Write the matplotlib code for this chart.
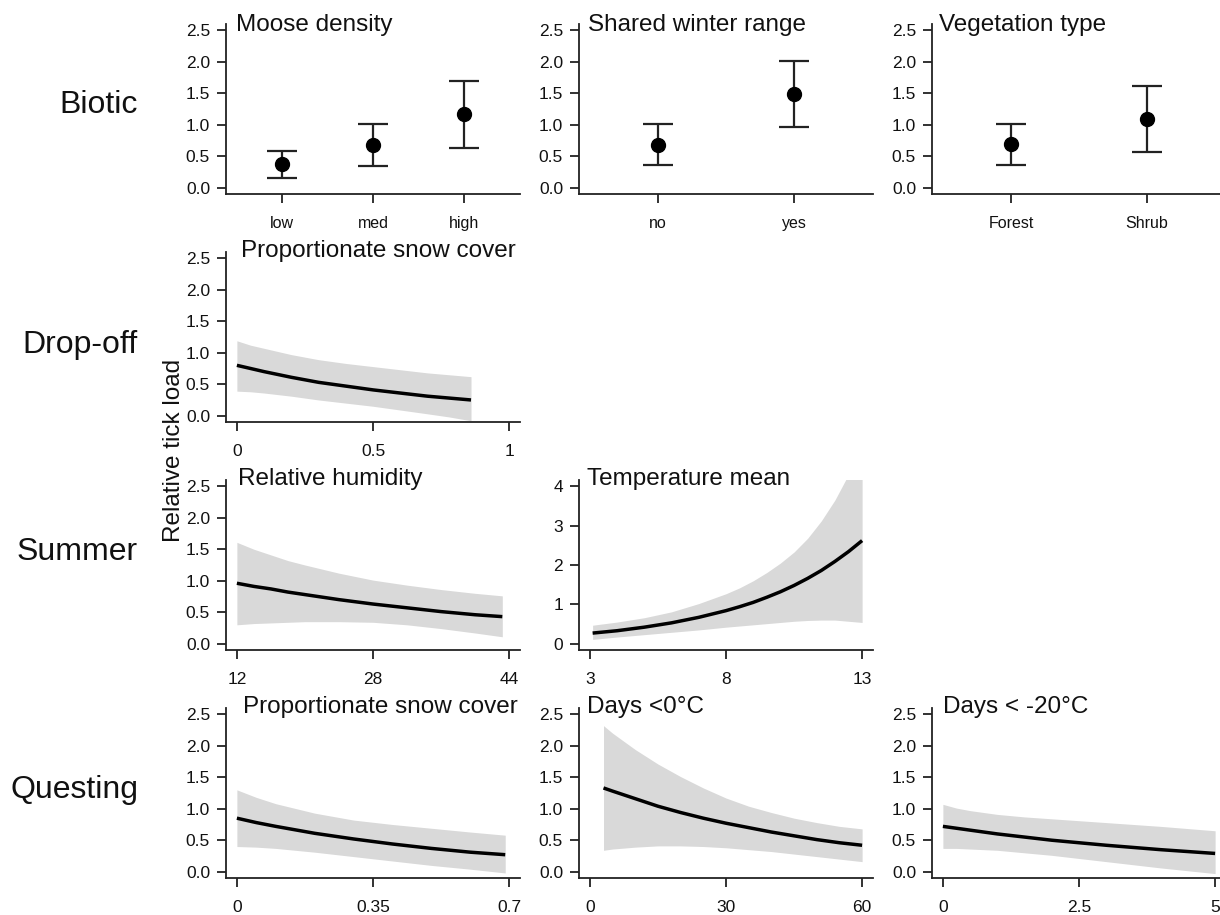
import matplotlib
matplotlib.use("Agg")
import matplotlib.pyplot as plt

plt.rcParams['font.family'] = ['Liberation Sans', 'DejaVu Sans']

# ---- data ----
# Biotic (categorical effects)
moose_levels = ["low", "med", "high"]
moose_est = [0.37, 0.68, 1.17]
moose_lo = [0.15, 0.35, 0.63]
moose_hi = [0.59, 1.01, 1.70]

winter_levels = ["no", "yes"]
winter_est = [0.68, 1.49]
winter_lo = [0.36, 0.97]
winter_hi = [1.01, 2.02]

veg_levels = ["Forest", "Shrub"]
veg_est = [0.69, 1.09]
veg_lo = [0.36, 0.56]
veg_hi = [1.01, 1.62]

# Drop-off: proportionate snow cover
drop_x = [0, 0.05, 0.1, 0.2, 0.3, 0.4, 0.5, 0.6, 0.7, 0.78, 0.86]
drop_fit = [0.80, 0.75, 0.70, 0.61, 0.53, 0.47, 0.41, 0.36, 0.31, 0.28, 0.25]
drop_hi = [1.19, 1.12, 1.07, 0.97, 0.89, 0.83, 0.78, 0.73, 0.68, 0.65, 0.62]
drop_lo = [0.39, 0.38, 0.36, 0.31, 0.25, 0.20, 0.15, 0.09, 0.03, -0.02, -0.08]

# Summer: relative humidity
humid_x = [12, 14, 16, 18, 20, 24, 28, 32, 36, 40, 43.2]
humid_fit = [0.96, 0.91, 0.87, 0.82, 0.78, 0.70, 0.63, 0.57, 0.51, 0.46, 0.43]
humid_hi = [1.61, 1.50, 1.41, 1.32, 1.25, 1.12, 1.01, 0.93, 0.86, 0.80, 0.76]
humid_lo = [0.30, 0.32, 0.33, 0.34, 0.35, 0.35, 0.34, 0.30, 0.24, 0.17, 0.11]

# Summer: temperature mean
temp_x = [3.1, 4, 5, 6, 7, 8, 8.5, 9, 9.5, 10, 10.5, 11, 11.5, 12, 12.5, 13]
temp_fit = [0.27, 0.33, 0.42, 0.53, 0.67, 0.84, 0.94, 1.05, 1.18, 1.32, 1.48,
            1.66, 1.86, 2.09, 2.34, 2.62]
temp_hi = [0.47, 0.55, 0.66, 0.81, 1.02, 1.27, 1.42, 1.60, 1.81, 2.05, 2.33,
           2.68, 3.12, 3.65, 4.30, 5.00]
temp_lo = [0.11, 0.17, 0.23, 0.29, 0.35, 0.42, 0.45, 0.48, 0.51, 0.54, 0.57,
           0.59, 0.60, 0.60, 0.57, 0.54]

# Questing: proportionate snow cover
qsnow_x = [0, 0.05, 0.1, 0.2, 0.3, 0.4, 0.5, 0.6, 0.69]
qsnow_fit = [0.85, 0.78, 0.72, 0.61, 0.52, 0.44, 0.37, 0.31, 0.27]
qsnow_hi = [1.30, 1.18, 1.08, 0.93, 0.82, 0.75, 0.69, 0.63, 0.58]
qsnow_lo = [0.40, 0.39, 0.37, 0.31, 0.24, 0.17, 0.10, 0.04, -0.02]

# Questing: days < 0 C
d0_x = [3, 5, 10, 15, 20, 25, 30, 35, 40, 45, 50, 55, 60]
d0_fit = [1.33, 1.28, 1.16, 1.04, 0.94, 0.85, 0.77, 0.70, 0.63, 0.57, 0.51,
          0.46, 0.42]
d0_hi = [2.32, 2.20, 1.94, 1.71, 1.51, 1.33, 1.17, 1.04, 0.94, 0.85, 0.78,
         0.72, 0.68]
d0_lo = [0.34, 0.36, 0.39, 0.41, 0.41, 0.40, 0.38, 0.35, 0.32, 0.28, 0.24,
         0.20, 0.16]

# Questing: days < -20 C
d20_x = [0, 0.25, 0.5, 1, 1.5, 2, 3, 4, 5]
d20_fit = [0.72, 0.69, 0.66, 0.60, 0.55, 0.50, 0.42, 0.35, 0.29]
d20_hi = [1.07, 1.01, 0.97, 0.91, 0.87, 0.84, 0.78, 0.72, 0.65]
d20_lo = [0.37, 0.37, 0.36, 0.34, 0.30, 0.26, 0.16, 0.06, -0.03]

row_labels = ["Biotic", "Drop-off", "Summer", "Questing"]

# ---- layout (pixel based, 1220 x 915) ----
W, H = 1220, 915
fig = plt.figure(figsize=(W / 100, H / 100), dpi=100)

col_left = [226, 579, 932]
row_top = [24, 252, 480, 708]
AW, AH = 294, 170
TXT = '#111111'
BAND = '#d9d9d9'


def make_ax(row, col):
    l = col_left[col]
    t = row_top[row]
    return fig.add_axes([l / W, 1 - (t + AH) / H, AW / W, AH / H])


def style(ax, xlim, xticks, xlabels, ylim=(-0.1, 2.6),
          yticks=(0, 0.5, 1, 1.5, 2, 2.5),
          ylabels=("0.0", "0.5", "1.0", "1.5", "2.0", "2.5"), xsize=12.5):
    for s in ['top', 'right']:
        ax.spines[s].set_visible(False)
    for s in ['left', 'bottom']:
        ax.spines[s].set_linewidth(1.3)
        ax.spines[s].set_color('#222222')
    ax.set_xlim(*xlim)
    ax.set_ylim(*ylim)
    ax.set_xticks(xticks)
    ax.set_xticklabels(xlabels)
    ax.set_yticks(yticks)
    ax.set_yticklabels(ylabels)
    ax.tick_params(axis='x', direction='out', length=6.5, width=1.3,
                   color='#222222', labelsize=xsize, pad=9, labelcolor=TXT)
    ax.tick_params(axis='y', direction='out', length=6.5, width=1.3,
                   color='#222222', labelsize=12.5, pad=5, labelcolor=TXT)


def title(ax, text, xf, yf=0.97):
    ax.text(xf, yf, text, transform=ax.transAxes, ha='left', va='baseline',
            fontsize=17.5, color=TXT, clip_on=False)


def cat_panel(ax, levels, est, lo, hi, xlim):
    pos = list(range(1, len(levels) + 1))
    err = [[e - l for e, l in zip(est, lo)], [h - e for e, h in zip(est, hi)]]
    ax.errorbar(pos, est, yerr=err, fmt='o', color='black', ecolor='#222222',
                markersize=10, elinewidth=1.6, capsize=11, capthick=1.6)
    style(ax, xlim, pos, levels, xsize=11.5)


def curve_panel(ax, x, fit, lo, hi):
    ax.fill_between(x, lo, hi, color=BAND, linewidth=0)
    ax.plot(x, fit, color='black', linewidth=2.5, solid_capstyle='butt')


# Row 1: Biotic
ax = make_ax(0, 0)
cat_panel(ax, moose_levels, moose_est, moose_lo, moose_hi, (0.38, 3.62))
title(ax, "Moose density", 0.034, 0.96)

ax = make_ax(0, 1)
cat_panel(ax, winter_levels, winter_est, winter_lo, winter_hi, (0.42, 2.58))
title(ax, "Shared winter range", 0.031, 0.96)

ax = make_ax(0, 2)
cat_panel(ax, veg_levels, veg_est, veg_lo, veg_hi, (0.42, 2.58))
title(ax, "Vegetation type", 0.024, 0.96)

# Row 2: Drop-off
ax = make_ax(1, 0)
curve_panel(ax, drop_x, drop_fit, drop_lo, drop_hi)
style(ax, (-0.04, 1.04), [0, 0.5, 1], ["0", "0.5", "1"])
title(ax, "Proportionate snow cover", 0.051)

# Row 3: Summer
ax = make_ax(2, 0)
curve_panel(ax, humid_x, humid_fit, humid_lo, humid_hi)
style(ax, (10.72, 45.28), [12, 28, 44], ["12", "28", "44"])
title(ax, "Relative humidity", 0.041)

ax = make_ax(2, 1)
curve_panel(ax, temp_x, temp_fit, temp_lo, temp_hi)
style(ax, (2.6, 13.4), [3, 8, 13], ["3", "8", "13"],
      ylim=(-0.16, 4.16), yticks=[0, 1, 2, 3, 4],
      ylabels=["0", "1", "2", "3", "4"])
title(ax, "Temperature mean", 0.027)

# Row 4: Questing
ax = make_ax(3, 0)
curve_panel(ax, qsnow_x, qsnow_fit, qsnow_lo, qsnow_hi)
style(ax, (-0.028, 0.728), [0, 0.35, 0.7], ["0", "0.35", "0.7"])
title(ax, "Proportionate snow cover", 0.058)

ax = make_ax(3, 1)
curve_panel(ax, d0_x, d0_fit, d0_lo, d0_hi)
style(ax, (-2.4, 62.4), [0, 30, 60], ["0", "30", "60"])
title(ax, "Days <0°C", 0.027)

ax = make_ax(3, 2)
curve_panel(ax, d20_x, d20_fit, d20_lo, d20_hi)
style(ax, (-0.2, 5.2), [0, 2.5, 5], ["0", "2.5", "5"])
title(ax, "Days < -20°C", 0.037)

# row labels and shared y label
row_label_y = [105, 345, 552, 790]
for lab, yp in zip(row_labels, row_label_y):
    fig.text(138 / W, 1 - yp / H, lab, ha='right', va='center',
             fontsize=23, color=TXT)

fig.text(174 / W, 1 - 450 / H, "Relative tick load", rotation=90,
         ha='center', va='center', fontsize=17.5, color=TXT)

fig.savefig("out.png", dpi=100)
